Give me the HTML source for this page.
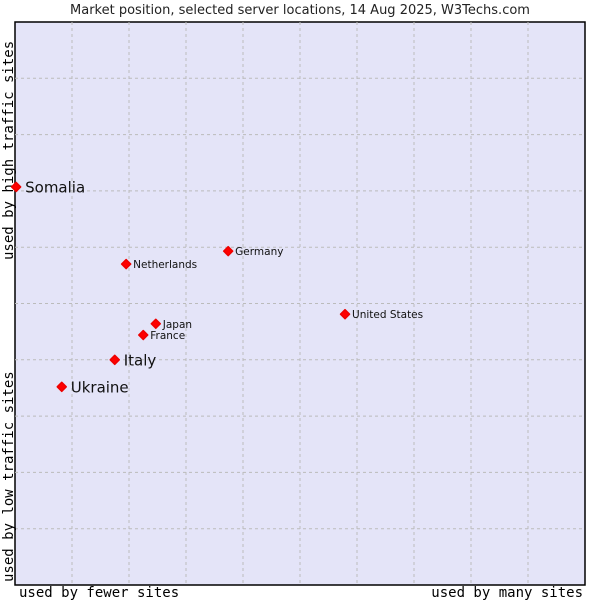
<!DOCTYPE html>
<html><head><meta charset="utf-8"><style>
body{margin:0;background:#fff;}
svg{display:block;}
</style></head><body>
<svg id="chart" width="600" height="600" xmlns="http://www.w3.org/2000/svg">
<text x="300" y="14" text-anchor="middle" font-family="DejaVu Sans, Liberation Sans, sans-serif" font-size="13" fill="#222">Market position, selected server locations, 14 Aug 2025, W3Techs.com</text>
<rect x="15" y="22" width="570" height="563" fill="#e4e4f8" stroke="#000" stroke-width="1.5"/>
<g id="grid"></g>
<text x="19" y="597" font-family="DejaVu Sans Mono, Liberation Mono, monospace" font-size="14" fill="#000">used by fewer sites</text>
<text x="583" y="597" text-anchor="end" font-family="DejaVu Sans Mono, Liberation Mono, monospace" font-size="14" fill="#000">used by many sites</text>
<text transform="translate(13,582) rotate(-90)" font-family="DejaVu Sans Mono, Liberation Mono, monospace" font-size="14" fill="#000">used by low traffic sites</text>
<text transform="translate(13,260) rotate(-90)" font-family="DejaVu Sans Mono, Liberation Mono, monospace" font-size="14" fill="#000">used by high traffic sites</text>
<g id="points"></g>
</svg>
<script>
const countries = ["Somalia","Netherlands","Germany","United States","Japan","France","Italy","Ukraine"];
const xValues = [0.2,19.5,37.4,57.9,24.7,22.5,17.5,8.2];
const yValues = [70.7,57.0,59.3,48.1,46.4,44.4,40.0,35.2];
const bigLabel = [true,false,false,false,false,false,true,true];
const gridTicks = [10,20,30,40,50,60,70,80,90];
const NS="http://www.w3.org/2000/svg";
const X0=15,X1=585,Y0=585,Y1=22;
const sx=v=>X0+(X1-X0)*v/100;
const sy=v=>Y0-(Y0-Y1)*v/100;
const grid=document.getElementById('grid');
gridTicks.forEach(t=>{
  const v=document.createElementNS(NS,'line');
  v.setAttribute('x1',sx(t));v.setAttribute('x2',sx(t));v.setAttribute('y1',Y1);v.setAttribute('y2',Y0);
  v.setAttribute('stroke','#bbb');v.setAttribute('stroke-dasharray','3,3');
  
  
  grid.appendChild(v);
  const h=document.createElementNS(NS,'line');
  h.setAttribute('x1',X0);h.setAttribute('x2',X1);h.setAttribute('y1',sy(t));h.setAttribute('y2',sy(t));
  h.setAttribute('stroke','#bbb');h.setAttribute('stroke-dasharray','3,3');
  
  
  grid.appendChild(h);
});
const pts=document.getElementById('points');
countries.forEach((c,i)=>{
  const x=sx(xValues[i]),y=sy(yValues[i]);
  const m=document.createElementNS(NS,'path');
  m.setAttribute('d',`M${x-4.5},${y} L${x},${y-4.5} L${x+4.5},${y} L${x},${y+4.5} Z`);
  m.setAttribute('fill','#f00');
  m.setAttribute('stroke','#e00');
  m.setAttribute('stroke-width','1.5');
  m.setAttribute('stroke-linejoin','round');
  
  
  pts.appendChild(m);
  const t=document.createElementNS(NS,'text');
  const big=bigLabel[i];
  t.setAttribute('x',x+(big?9:7));
  t.setAttribute('y',y+(big?5.5:4));
  t.setAttribute('font-family','DejaVu Sans, Liberation Sans, sans-serif');
  t.setAttribute('font-size',big?15:10.5);
  t.setAttribute('fill','#111');
  t.textContent=c;
  
  
  pts.appendChild(t);
});
</script>
</body></html>
